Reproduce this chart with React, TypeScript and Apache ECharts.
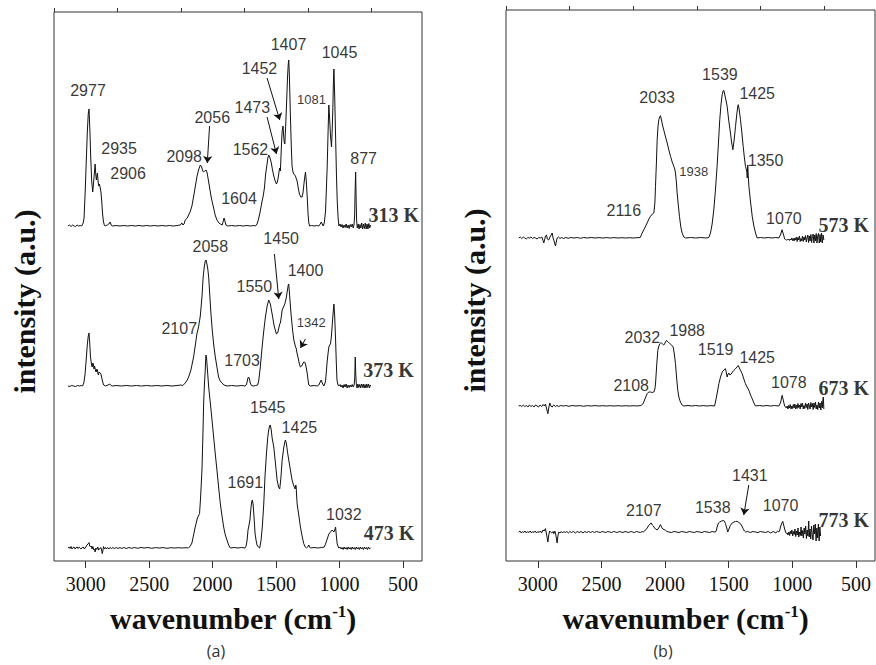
import React, { useEffect, useRef } from "react";
import * as echarts from "echarts";

// ---------- axis values ----------
const WN_MIN = 350;
const WN_MAX = 3250;
const MAJOR_TICKS = [500, 1000, 1500, 2000, 2500, 3000];
const MINOR_TICKS = [750, 1250, 1750, 2250, 2750, 3250];
const Y_MAX_A = 549;
const Y_MAX_B = 551;

// ---------- spectra: [wavenumber, intensity above own baseline] ----------
const T313: [number, number][] = [
  [3140,0],[3128,1],[3116,-0.5],[3104,1],[3092,0],[3080,-0.5],[3068,1],[3056,0],[3044,0.5],[3032,0],
  [3020,3],[3013,8],[3004,35],[2997,60],[2987,95],[2980,112],[2974,117],[2967,95],[2961,70],[2953,45],[2945,34],[2935,48],[2926,62],[2921,52],[2916,46],[2912,50],[2908,53],[2902,44],[2897,40],[2892,42],[2887,39],[2880,34],[2874,25],[2867,12],[2861,5],[2854,1],[2847,0],[2830,1],[2818,2],[2808,4],[2800,1],[2790,0],
  [2760,0.5],[2730,0],[2700,0.5],[2670,0],[2640,0.5],[2610,0],[2580,0.5],[2550,0],[2520,0.5],[2490,0],[2460,0.5],[2430,0],[2400,0.5],[2370,0],[2340,0.5],[2310,0],[2280,0.5],[2255,1],[2242,3],[2234,1],[2225,2],[2216,6],[2200,8],[2189,11],[2175,15],[2163,20],[2145,33],[2124,49],[2111,56],[2097,61],[2090,60],[2084,58],[2078,55],[2071,54],[2062,55],[2052,56],[2045,54],[2039,50],[2031,44],[2022,37],[2013,30],[2003,24],[1992,18],[1980,11],[1966,6],[1950,3],[1939,2],[1924,1],[1916,5],[1910,8],[1903,5],[1895,1],[1880,0],[1850,0.5],[1820,0],[1790,0.5],[1760,0],[1730,0.5],[1700,0],[1675,0.5],[1663,0],[1650,2],[1640,6],[1629,12],[1620,18],[1610,25],[1600,31],[1592,38],[1582,52],[1571,62],[1565,68],[1558,71],[1550,69],[1539,64],[1528,56],[1518,50],[1507,45],[1497,42],[1490,44],[1481,50],[1476,55],[1471,58],[1466,55],[1461,70],[1458,80],[1452,95],[1445,100],[1440,90],[1436,84],[1431,82],[1425,98],[1418,120],[1410,148],[1404,162],[1400,166],[1395,150],[1387,110],[1380,80],[1374,60],[1367,54],[1360,52],[1354,51],[1347,50],[1340,47],[1334,45],[1325,38],[1316,32],[1305,29],[1295,29],[1288,33],[1282,40],[1275,48],[1268,54],[1262,45],[1255,30],[1248,12],[1242,3],[1235,0],[1220,0.5],[1200,0],[1180,0.5],[1163,0],[1152,2],[1144,4],[1136,2],[1129,0],[1120,3],[1110,15],[1104,35],[1097,60],[1090,95],[1084,121],[1078,108],[1071,90],[1063,79],[1058,95],[1052,120],[1048,145],[1044,157],[1038,130],[1031,90],[1024,50],[1018,25],[1011,8],[1005,0],
  [996,2],[988,-1],[980,1.5],[972,-2],[964,1],[956,-1.5],[948,2],[940,-2],[932,1],[924,-2.5],[916,1.5],[908,-1],[900,2],[892,-2],[886,1],[881,10],[877,35],[873,54],[869,25],[865,5],[860,-2],[853,2],[846,-3],[839,1.5],[832,-2],[825,3],[818,-3],[811,2],[804,-2.5],[797,3],[790,-3],[783,2],[776,-3],[769,2.5],[762,-2],[755,1]
];

const T373: [number, number][] = [
  [3140,0],[3125,-0.5],[3110,0.5],[3095,0],[3080,-0.5],[3065,0.5],[3050,0],[3035,0.5],[3025,0],
  [3015,3],[3005,12],[2997,25],[2987,42],[2980,50],[2974,53],[2968,42],[2963,30],[2955,22],[2950,19],[2944,23],[2940,22],[2935,17],[2930,20],[2926,20],[2922,15],[2918,14],[2912,17],[2908,16],[2903,12],[2900,11],[2895,14],[2890,14],[2885,13],[2880,12],[2875,9],[2870,6],[2864,3],[2858,1],[2845,0],[2825,1],[2810,2],[2800,0.5],[2790,0],
  [2760,0.5],[2720,0],[2680,0.5],[2640,0],[2600,0.5],[2560,0],[2520,0.5],[2480,0],[2440,0.5],[2400,0],[2360,0.5],[2320,0],[2280,0.5],[2250,1],[2235,0.5],[2216,3],[2200,6],[2189,9],[2171,16],[2150,29],[2135,42],[2124,52],[2111,59],[2097,70],[2084,89],[2075,108],[2066,119],[2058,125],[2052,126],[2045,122],[2039,118],[2031,109],[2022,90],[2013,72],[2003,56],[1992,42],[1980,30],[1966,19],[1953,9],[1940,5],[1926,3],[1910,1],[1887,0],[1850,0.5],[1810,0],[1770,0.5],[1745,0],[1735,1],[1728,4],[1722,8],[1716,9],[1710,7],[1703,3],[1695,0.5],[1680,0],[1660,0.5],[1645,1],[1637,5],[1625,18],[1610,39],[1597,55],[1584,69],[1570,80],[1558,86],[1545,82],[1531,72],[1515,60],[1497,52],[1488,53],[1480,57],[1471,62],[1466,63],[1458,70],[1452,76],[1445,78],[1438,80],[1431,82],[1420,88],[1410,96],[1404,101],[1400,102],[1394,92],[1388,82],[1382,72],[1370,56],[1360,46],[1352,42],[1347,39],[1342,38],[1335,33],[1326,28],[1316,22],[1308,19],[1298,20],[1290,22],[1282,24],[1275,24],[1268,22],[1262,18],[1255,13],[1248,6],[1242,1],[1230,0],[1200,0.5],[1175,0],[1163,1],[1152,4],[1144,6],[1136,3],[1124,0],[1117,2],[1110,5],[1104,14],[1097,25],[1090,33],[1084,39],[1078,41],[1071,42],[1064,50],[1058,60],[1051,72],[1044,82],[1038,70],[1031,46],[1025,22],[1020,6],[1012,1],[1005,0],
  [996,1.5],[988,-1],[980,1],[972,-2],[964,1.5],[956,-1],[948,2],[940,-2],[932,1],[924,-1.5],[916,1],[908,-1],[900,1.5],[892,-1],[885,1],[880,8],[876,29],[872,12],[868,2],[862,-2],[855,2],[848,-1.5],[841,1.5],[834,-2],[827,2],[820,-1.5],[813,2],[806,-2],[799,1.5],[792,-2],[785,2],[778,-1.5],[771,2],[764,-2],[757,1],[755,0]
];

const T473: [number, number][] = [
  [3140,0],[3132,1],[3124,-0.5],[3116,1.5],[3108,-1],[3100,0.5],[3092,1],[3084,-1],[3076,0.5],[3068,1],[3060,-0.5],[3052,1],[3044,0],[3036,-1],[3028,0.5],[3020,1],[3010,-1],[3000,1],[2990,3],[2982,4],[2974,5.4],[2968,2],[2962,1],[2956,2],[2950,-1],[2944,1.5],[2936,-2],[2930,-1],[2926,-4],[2920,0],[2912,-1.5],[2905,1],[2898,-2],[2890,-1],[2882,0.5],[2876,-1],[2870,-5.6],[2865,-3],[2860,1.5],[2852,-1],[2844,0.5],[2836,-1],[2828,0.5],[2818,-1],[2808,0.5],[2798,-0.5],[2786,0.5],[2774,-0.5],[2760,0.5],[2745,-0.5],[2730,0.5],[2715,-0.5],[2700,0.5],[2680,-0.5],[2660,0.5],[2640,-0.3],[2615,0.5],[2590,-0.3],[2565,0.5],[2540,0],[2510,0.5],[2480,-0.3],[2450,0.4],[2420,0],[2390,0.4],[2360,-0.3],[2330,0.3],[2300,0],[2270,0.3],[2240,0],[2210,0.3],[2190,0],
  [2176,2],[2163,5],[2150,13],[2137,21],[2120,30],[2103,34.5],[2095,50],[2084,78],[2077,110],[2071,144],[2064,165],[2058,178],[2055,188],[2052,193],[2048,190],[2045,185],[2038,173],[2031,161],[2010,135],[1992,111],[1979,94],[1966,78],[1952,60],[1939,44],[1926,32],[1913,21],[1900,13],[1887,8],[1874,3],[1860,0],[1830,0.5],[1800,0],[1770,0.5],[1745,0],[1736,2],[1728,8],[1721,18],[1716,21],[1706,28],[1698,40],[1692,46],[1687,48],[1681,44],[1676,35],[1670,24],[1666,15],[1658,8],[1650,3],[1640,1],[1629,0],[1618,8],[1608,22],[1597,44],[1587,72],[1576,94],[1566,110],[1558,118],[1551,122],[1545,123],[1538,118],[1531,110],[1518,101],[1505,85],[1492,68],[1480,61],[1471,59],[1462,70],[1452,88],[1440,100],[1431,106],[1426,108],[1418,104],[1410,96],[1400,88],[1387,78],[1374,68],[1360,62],[1350,59],[1345,63],[1342,62],[1338,52],[1334,44],[1320,32],[1308,21],[1295,12],[1282,4.4],[1270,1],[1261,0],[1250,1],[1242,3],[1236,1],[1229,0],[1200,0.5],[1170,0],[1140,0.5],[1120,1],[1110,4],[1097,9],[1084,14],[1071,16],[1058,18],[1051,17],[1044,16],[1038,18],[1031,21],[1025,12],[1018,4],[1010,1],[1005,0],
  [996,1],[988,-1],[980,0.5],[972,-1.5],[964,1],[956,-1],[948,0.5],[940,-1.5],[932,1],[924,-1],[916,0.5],[908,-1.5],[900,1],[892,-1],[884,0.5],[876,-1.5],[868,1],[860,-1],[852,0.5],[844,-1.5],[836,1],[828,-1],[820,0.5],[812,-1.5],[804,1],[796,-1],[788,0.5],[780,-1.5],[772,1],[764,-1],[755,0]
];

const T573: [number, number][] = [
  [3150,0],[3138,1],[3126,-0.5],[3114,1],[3102,0],[3090,-1],[3078,0.5],[3066,0],[3054,1],[3042,-0.5],[3030,0.5],[3018,0],[3006,-1],[2994,0.5],[2980,0],[2968,1],[2960,-2],[2953,-5],[2945,-1],[2940,2],[2932,3],[2925,-1],[2914,-2],[2905,1],[2895,3],[2887,5],[2880,0],[2872,-3],[2866,-6],[2861,-8],[2855,-4],[2848,0],[2838,1],[2826,-0.5],[2812,0.5],[2798,-0.5],[2780,0.5],[2760,-0.3],[2740,0.5],[2715,0],[2690,0.5],[2665,-0.3],[2640,0.5],[2610,0],[2580,0.5],[2550,0],[2520,0.4],[2490,0],[2460,0.4],[2430,0],[2400,0.4],[2370,0],[2340,0.3],[2310,0],[2280,0.3],[2250,0],[2220,0.3],[2195,0.5],
  [2180,5],[2160,10],[2141,15],[2127,19],[2114,21.7],[2100,24],[2088,25],[2080,35],[2075,51.7],[2068,75],[2062,98.3],[2055,112],[2049,118.3],[2042,121],[2036,122.3],[2028,118],[2020,113],[2010,108],[1996,101],[1983,95],[1970,88],[1957,81.7],[1944,76],[1931,71.7],[1924,69],[1918,65],[1911,56],[1905,45],[1896,33],[1887,21.7],[1876,11],[1866,5],[1852,1],[1839,0],[1800,0.5],[1760,0],[1720,0.5],[1680,0],[1656,0.5],[1643,5],[1630,14],[1617,28],[1604,48],[1591,71.7],[1580,96],[1570,118.3],[1560,134],[1551,143.3],[1544,147],[1538,147.7],[1530,143],[1520,137],[1512,131.7],[1500,118],[1486,105],[1476,95],[1467,88.3],[1457,98],[1446,111.7],[1436,124],[1429,131],[1425,133.3],[1418,129],[1407,118.3],[1396,105],[1386,91.7],[1377,81],[1368,71.7],[1362,69],[1357,66],[1354,60],[1350,73],[1346,62],[1341,51.7],[1328,36],[1315,21.7],[1302,12],[1289,5],[1276,0],[1250,0.5],[1220,0],[1190,0.5],[1160,0],[1130,0.5],[1106,0],[1098,2],[1093,3],[1086,6],[1080,8.3],[1073,5],[1066,2],[1060,-1],[1053,-1.5],
  [1046,-2],[1040,-1.5],[1034,-2],[1028,-1],[1022,-2.5],[1016,-1],[1010,-2],[1004,0],[998,-2.5],[992,-0.5],[986,-3],[980,0],[974,-2],[968,1],[962,-3.5],[956,0.5],[950,-2],[944,2],[938,-3.5],[932,-0.5],[926,-3],[920,2],[914,-3.5],[908,1],[902,-2],[896,2.5],[890,-4],[884,0],[878,3],[872,-4.5],[866,2],[860,-3],[854,3.5],[848,-4.5],[842,1.5],[836,4],[830,-5],[824,3],[818,-3],[812,4.5],[806,-5],[800,2],[794,4.5],[788,-5],[782,3.5],[776,-4],[770,5],[764,-5],[758,3],[752,-2]
];

const T673: [number, number][] = [
  [3150,0],[3138,0.5],[3126,-0.5],[3114,1],[3102,-0.5],[3090,0.5],[3078,-1],[3066,1],[3054,-0.5],[3042,0.5],[3030,-1],[3018,1],[3006,0],[2994,-1],[2982,1],[2970,-0.5],[2958,1.5],[2948,0],[2940,2],[2930,-3],[2921,-7.7],[2914,-2],[2906,3],[2897,0],[2887,-1],[2880,0.5],[2874,1],[2862,-0.5],[2850,0.5],[2836,-0.5],[2820,0.5],[2800,0],[2780,0.5],[2755,-0.3],[2730,0.5],[2700,0],[2670,0.4],[2640,-0.3],[2610,0.4],[2580,0],[2550,0.4],[2520,0],[2490,0.3],[2460,0],[2430,0.3],[2400,0],[2370,0.3],[2340,0],[2310,0.3],[2280,0],[2250,0.3],[2220,0],[2190,0.5],
  [2175,2],[2167,4],[2155,8],[2141,12.3],[2128,14],[2114,14],[2100,13.5],[2088,14],[2080,17],[2075,22],[2066,40],[2057,55.7],[2049,60],[2041,62.3],[2034,63],[2028,63],[2019,62],[2010,61],[2000,63],[1989,65.7],[1975,64],[1962,62.3],[1949,61],[1936,59],[1927,52],[1918,42.3],[1909,28],[1900,15.7],[1890,8],[1879,4],[1866,1],[1852,0],[1820,0.5],[1790,0],[1760,0.5],[1730,0],[1700,0.4],[1670,0],[1640,0.4],[1611,0],[1604,4],[1590,13],[1577,22.3],[1564,29],[1551,34],[1538,36],[1525,37.3],[1518,33],[1512,29],[1505,32],[1499,33],[1490,31],[1480,32],[1470,34],[1459,35.7],[1448,37],[1435,39],[1425,40.5],[1420,40.7],[1412,37],[1404,35],[1394,32.3],[1381,27],[1368,22.3],[1355,19],[1341,15.7],[1328,11],[1315,7.3],[1302,3],[1289,0],[1260,0.5],[1230,0],[1200,0.5],[1170,0],[1140,0.5],[1106,0],[1098,2],[1093,3],[1086,7],[1080,10.7],[1073,7],[1066,3],[1060,0],[1053,-1],
  [1046,-2],[1040,0],[1034,-3],[1028,0.5],[1022,-2],[1016,1.5],[1010,-3],[1004,0],[998,-2.5],[992,1.5],[986,-2],[980,2],[974,-3],[968,1],[962,-2.5],[956,2.5],[950,-1.5],[944,1],[938,-3],[932,2.5],[926,-1],[920,3],[914,-3],[908,0.5],[902,-2.5],[896,3],[890,-1.5],[884,2],[878,-3.5],[872,3],[866,0],[860,-3],[854,3.5],[848,-1],[842,2.5],[836,-3.5],[830,3],[824,-1.5],[818,4],[812,-3],[806,1],[800,-3.5],[794,4],[788,-2],[782,3],[776,-4],[770,4.5],[764,-2],[760,6],[756,9],[752,-3]
];

const T773: [number, number][] = [
  [3150,0],[3140,1],[3130,-1],[3120,0.5],[3110,-0.5],[3100,1],[3090,-1],[3080,0.5],[3070,-0.5],[3060,1],[3050,-1],[3040,0.5],[3030,-0.5],[3020,1],[3010,-1],[3000,0.5],[2990,-0.5],[2980,1],[2970,-1],[2960,2],[2950,1],[2940,3.4],[2932,-2],[2926,-6],[2921,-10],[2914,-3],[2907,1],[2900,0],[2890,-1],[2880,0.5],[2874,-1.7],[2866,1],[2858,-3],[2852,-8],[2848,-11],[2842,-4],[2835,0],[2826,-1],[2816,0.5],[2806,-1],[2796,0.5],[2784,-0.5],[2772,0.5],[2760,-1],[2748,0.5],[2735,-0.5],[2720,0.5],[2705,-1],[2690,0.5],[2675,-0.5],[2660,0.5],[2645,-1],[2630,0.5],[2615,-0.5],[2600,0.5],[2585,-0.5],[2570,0.5],[2555,-0.5],[2540,0.5],[2525,0],[2510,-0.5],[2495,0.5],[2480,0],[2465,-0.5],[2450,0.5],[2435,0],[2420,-0.5],[2405,0.5],[2390,0],[2375,-0.5],[2360,0.5],[2345,0],[2330,-0.5],[2315,0.5],[2300,0],[2285,-0.5],[2270,0.5],[2255,0],[2240,-0.5],[2225,0.5],[2210,0],[2195,-0.5],[2180,0.5],[2170,0],
  [2160,1],[2154,2],[2140,4],[2128,6.7],[2118,8],[2109,9],[2100,7],[2092,6],[2088,5],[2075,3],[2062,2],[2050,4],[2042,6],[2036,7.4],[2028,5],[2018,3],[2008,2.5],[1997,1.7],[1985,0.5],[1970,0],[1950,-0.5],[1930,0.5],[1910,0],[1890,-0.5],[1870,0.5],[1850,0],[1830,-0.5],[1810,0.5],[1790,0],[1770,-0.5],[1750,0.5],[1730,0],[1710,-0.5],[1690,0.5],[1670,0],[1650,-0.5],[1630,0.5],[1615,0],[1604,0],[1596,2],[1591,5],[1580,9],[1570,10],[1555,11],[1545,11.4],[1538,11.4],[1530,10],[1525,8.3],[1515,4],[1507,0],[1498,3],[1486,6.7],[1472,9],[1459,10],[1446,10.5],[1433,10.7],[1420,9.5],[1407,8.3],[1396,6],[1386,3.3],[1376,1],[1368,0],[1350,0.5],[1330,-0.5],[1310,0.5],[1290,0],[1270,-0.5],[1250,0.5],[1230,0],[1210,-0.5],[1190,0.5],[1170,-1],[1150,0.5],[1130,-1],[1115,1],[1106,0],[1098,2],[1093,5],[1085,8],[1075,10.7],[1068,7],[1060,3],[1053,0],[1046,-1.5],
  [1040,-1],[1034,-3],[1027,0],[1021,-3.5],[1015,1],[1009,-2],[1003,2],[997,-4],[991,0.5],[985,-2.5],[979,3],[973,-4.5],[967,1],[961,-3],[955,4],[949,-5],[943,0],[937,-3.5],[931,5],[925,-4],[919,1.5],[913,-6],[907,4],[901,-2],[895,6],[889,-6.5],[883,2],[877,-4],[871,11],[867,-5],[861,3],[855,-7],[849,6],[843,-3],[837,-8],[831,7],[825,-2],[819,8],[813,-9],[807,4],[801,-6],[795,8],[789,-9],[783,5],[778,-4]
];

// vertical stacking offsets of each trace (a.u.)
const OFFSET_313 = 335;
const OFFSET_373 = 175;
const OFFSET_473 = 13;
const OFFSET_573 = 323;
const OFFSET_673 = 155;
const OFFSET_773 = 29;

// ---------- annotations: [wavenumber, y, text] ----------
const PEAK_LABELS_A: [number, number, string][] = [
  [2982,471,"2977"],[2737,413,"2935"],[2666,388,"2906"],[2003,444,"2056"],[2224,405,"2098"],
  [1687,454,"1473"],[1631,493,"1452"],[1702,412,"1562"],[1402,517,"1407"],[1000,509,"1045"],
  [810,403,"877"],[1792,363,"1604"],
  [2018,315,"2058"],[1460,323,"1450"],[1268,291,"1400"],[1671,275,"1550"],[2263,233,"2107"],[1768,201,"1703"],
  [1566,154,"1545"],[1316,134,"1425"],[1742,79,"1691"],[966,47,"1032"]
];
const SMALL_LABELS_A: [number, number, string][] = [[1221,462,"1081"],[1223,239,"1342"]];
const TEMP_LABELS_A: [number, number, string][] = [[573,346,"313 K"],[613,191,"373 K"],[610,28,"473 K"]];
const ARROWS_A: [number, number, number, number][] = [
  [2024,435,2042,398],[1571,444,1497,407],[1571,483,1471,441],[1513,307,1479,262],[1268,222,1308,213]
];

const PEAK_LABELS_B: [number, number, string][] = [
  [2062,464,"2033"],[1569,487,"1539"],[1276,468,"1425"],[1210,401,"1350"],[2324,351,"2116"],[1066,343,"1070"],
  [2179,224,"2032"],[1826,231,"1988"],[1603,212,"1519"],[1276,204,"1425"],[2266,176,"2108"],[1027,179,"1078"],
  [1334,86,"1431"],[2167,51,"2107"],[1625,54,"1538"],[1092,56,"1070"]
];
const SMALL_LABELS_B: [number, number, string][] = [[1774,390,"1938"]];
const TEMP_LABELS_B: [number, number, string][] = [[595,336,"573 K"],[595,173,"673 K"],[595,41,"773 K"]];
const ARROWS_B: [number, number, number, number][] = [[1342,76,1381,46]];

const PANEL_CAPTIONS = ["(a)", "(b)"];

const SERIF = "'Liberation Serif', 'Times New Roman', serif";
const SANS = "'Liberation Sans', Arial, sans-serif";
const INK = "#111";

function traceSeries(name: string, data: [number, number][], offset: number, panel: number) {
  return {
    type: "line",
    name,
    xAxisIndex: panel * 2,
    yAxisIndex: panel,
    data: data.map(([w, v]) => [w, v + offset]),
    showSymbol: false,
    symbol: "none",
    silent: true,
    lineStyle: { color: INK, width: 1 },
    z: 2,
  };
}

function labelSeries(labels: [number, number, string][], panel: number, textStyle: any, arrows?: [number, number, number, number][]) {
  const s: any = {
    type: "scatter",
    xAxisIndex: panel * 2,
    yAxisIndex: panel,
    symbolSize: 0,
    silent: true,
    data: labels.map(([w, y, t]) => ({ value: [w, y], name: t })),
    label: { show: true, position: "inside", formatter: "{b}", color: "#000", ...textStyle },
    z: 5,
  };
  if (arrows) {
    s.markLine = {
      silent: true,
      symbol: ["none", "arrow"],
      symbolSize: 7,
      label: { show: false },
      lineStyle: { color: INK, width: 1, type: "solid" },
      data: arrows.map(([x1, y1, x2, y2]) => [{ coord: [x1, y1] }, { coord: [x2, y2] }]),
    };
  }
  return s;
}

function xAxes(gridIndex: number) {
  const base = {
    type: "value",
    gridIndex,
    min: WN_MIN,
    max: WN_MAX,
    inverse: true,
    axisLine: { show: false },
    splitLine: { show: false },
  };
  return [
    {
      ...base,
      axisTick: { show: true, inside: false, length: 7, customValues: MAJOR_TICKS, lineStyle: { color: "#333", width: 1 } },
      axisLabel: {
        show: true,
        customValues: MAJOR_TICKS,
        margin: 13,
        fontFamily: SERIF,
        fontSize: 20,
        color: INK,
        formatter: (v: number) => String(v),
      },
      name: "{b|wavenumber (cm}{s|-1}{b|)}",
      nameLocation: "middle",
      nameGap: 42,
      nameTextStyle: {
        padding: [0, 10, 0, 0],
        rich: {
          b: { fontFamily: SERIF, fontWeight: "bold", fontSize: 30, color: INK },
          s: { fontFamily: SERIF, fontWeight: "bold", fontSize: 17, color: INK, verticalAlign: "top" },
        },
      },
    },
    {
      ...base,
      axisTick: { show: true, inside: false, length: 4, customValues: MINOR_TICKS, lineStyle: { color: "#333", width: 1 } },
      axisLabel: { show: false },
    },
  ];
}

function yAxis(gridIndex: number, max: number, gap: number) {
  return {
    type: "value",
    gridIndex,
    min: 0,
    max,
    axisLine: { show: false },
    axisTick: { show: false },
    axisLabel: { show: false },
    splitLine: { show: false },
    name: "intensity (a.u.)",
    nameLocation: "middle",
    nameGap: gap,
    nameTextStyle: { fontFamily: SERIF, fontWeight: "bold", fontSize: 30, color: INK, padding: [0, 30, 0, 0] },
  };
}

const peakStyle = { fontFamily: SANS, fontSize: 16 };
const smallStyle = { fontFamily: SANS, fontSize: 13 };
const tempStyle = { fontFamily: SERIF, fontSize: 20, fontWeight: "bold" };

const captionStyle = (text: string) => ({
  text,
  fontSize: 16,
  fontFamily: "Open Sans",
  fill: "#333",
  align: "center",
  verticalAlign: "middle",
});

const option: any = {
  animation: false,
  backgroundColor: "#fff",
  grid: [
    { left: 54, top: 12, width: 368, height: 549, show: true, borderColor: "#333", borderWidth: 1, backgroundColor: "transparent" },
    { left: 506, top: 10, width: 369, height: 551, show: true, borderColor: "#333", borderWidth: 1, backgroundColor: "transparent" },
  ],
  xAxis: [...xAxes(0), ...xAxes(1)],
  yAxis: [yAxis(0, Y_MAX_A, 15), yAxis(1, Y_MAX_B, 17)],
  series: [
    traceSeries("313 K", T313, OFFSET_313, 0),
    traceSeries("373 K", T373, OFFSET_373, 0),
    traceSeries("473 K", T473, OFFSET_473, 0),
    traceSeries("573 K", T573, OFFSET_573, 1),
    traceSeries("673 K", T673, OFFSET_673, 1),
    traceSeries("773 K", T773, OFFSET_773, 1),
    labelSeries(PEAK_LABELS_A, 0, peakStyle, ARROWS_A),
    labelSeries(SMALL_LABELS_A, 0, smallStyle),
    labelSeries(TEMP_LABELS_A, 0, tempStyle),
    labelSeries(PEAK_LABELS_B, 1, peakStyle, ARROWS_B),
    labelSeries(SMALL_LABELS_B, 1, smallStyle),
    labelSeries(TEMP_LABELS_B, 1, tempStyle),
  ],
  graphic: [
    { type: "text", x: 216, y: 651, style: captionStyle(PANEL_CAPTIONS[0]) },
    { type: "text", x: 663, y: 651, style: captionStyle(PANEL_CAPTIONS[1]) },
  ],
};

export default function App() {
  const ref = useRef<HTMLDivElement>(null);
  useEffect(() => {
    document.body.style.margin = "0";
    const chart = echarts.init(ref.current!, null, { renderer: "svg" });
    chart.setOption(option);
    return () => chart.dispose();
  }, []);
  return <div ref={ref} style={{ width: 876, height: 665 }} />;
}
